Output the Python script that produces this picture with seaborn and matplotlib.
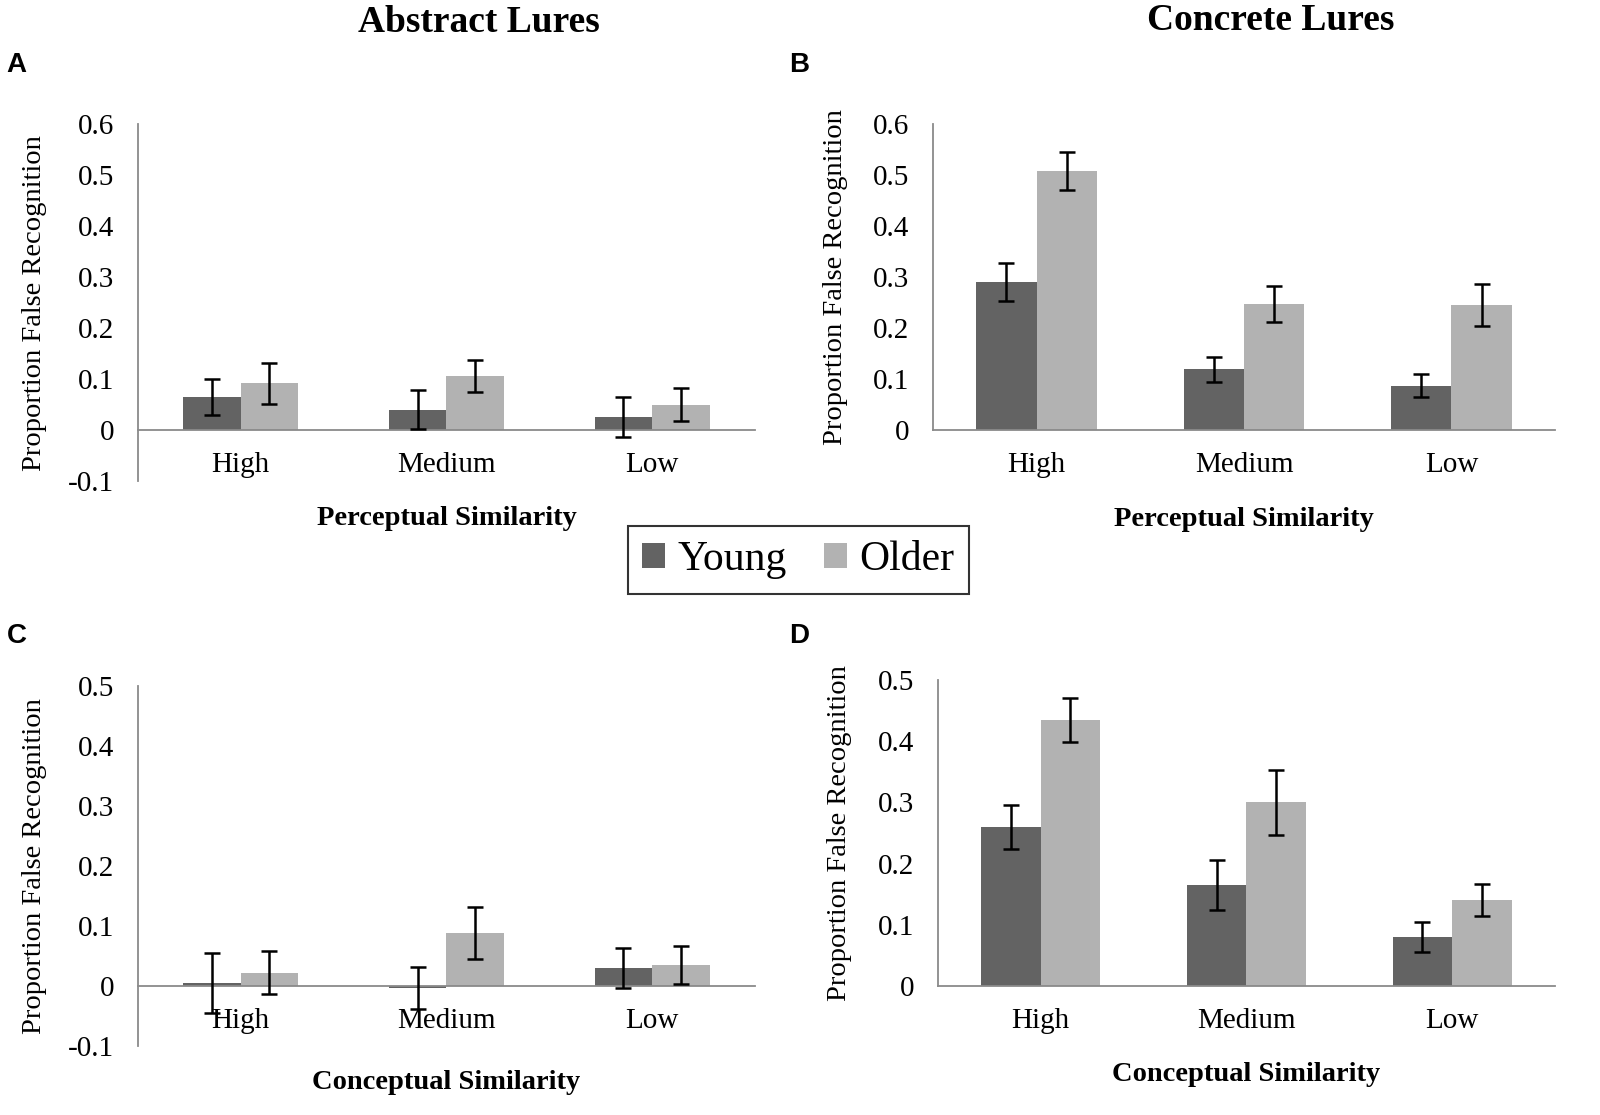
import matplotlib
matplotlib.use("Agg")
import matplotlib.pyplot as plt
import numpy as np
import pandas as pd
import seaborn as sns
from matplotlib.patches import Patch

# Data
levels = ["High", "Medium", "Low"]
groups = ["Young", "Older"]

# A: abstract lures, perceptual similarity
abs_perc_young = [0.065, 0.040, 0.025]
abs_perc_young_err = [0.035, 0.038, 0.039]
abs_perc_older = [0.092, 0.106, 0.050]
abs_perc_older_err = [0.040, 0.032, 0.033]

# B: concrete lures, perceptual similarity
con_perc_young = [0.290, 0.119, 0.087]
con_perc_young_err = [0.037, 0.025, 0.022]
con_perc_older = [0.508, 0.247, 0.246]
con_perc_older_err = [0.037, 0.035, 0.041]

# C: abstract lures, conceptual similarity
abs_conc_young = [0.005, -0.003, 0.030]
abs_conc_young_err = [0.050, 0.035, 0.033]
abs_conc_older = [0.022, 0.088, 0.035]
abs_conc_older_err = [0.036, 0.043, 0.032]

# D: concrete lures, conceptual similarity
con_conc_young = [0.260, 0.165, 0.080]
con_conc_young_err = [0.036, 0.041, 0.025]
con_conc_older = [0.435, 0.300, 0.140]
con_conc_older_err = [0.036, 0.053, 0.026]

ticks_a = [-0.1, 0, 0.1, 0.2, 0.3, 0.4, 0.5, 0.6]
ticks_b = [0, 0.1, 0.2, 0.3, 0.4, 0.5, 0.6]
ticks_c = [-0.1, 0, 0.1, 0.2, 0.3, 0.4, 0.5]
ticks_d = [0, 0.1, 0.2, 0.3, 0.4, 0.5]

colors = ["#636363", "#b2b2b2"]
axis_gray = "#8a8a8a"
serif = ["Liberation Serif", "DejaVu Serif"]

sns.set_style("white")
plt.rcParams["font.family"] = serif
plt.rcParams["text.color"] = "black"
plt.rcParams["xtick.color"] = "black"
plt.rcParams["ytick.color"] = "black"
plt.rcParams["axes.labelcolor"] = "black"


def draw_panel(ax, young, young_err, older, older_err, yticks, xlabel, width, xlab_y, ylab_x):
    df = pd.DataFrame({
        "level": levels * 2,
        "group": [groups[0]] * 3 + [groups[1]] * 3,
        "value": young + older,
    })
    sns.barplot(data=df, x="level", y="value", hue="group", order=levels,
                hue_order=groups, palette=colors, width=width, saturation=1,
                errorbar=None, legend=False, linewidth=0, ax=ax)

    # error bars centred on each bar
    for container, vals, errs in zip(ax.containers, [young, older], [young_err, older_err]):
        for bar, v, e in zip(container, vals, errs):
            xc = bar.get_x() + bar.get_width() / 2
            ax.errorbar(xc, v, yerr=e, color="black", lw=1.8, capsize=5.5,
                        capthick=1.8, zorder=5)

    ax.set_xlim(-0.5, 2.5)
    ax.set_ylim(yticks[0], yticks[-1])
    ax.set_yticks(yticks)
    ax.set_yticklabels([f"{t:g}" for t in yticks])

    for side in ["top", "right"]:
        ax.spines[side].set_visible(False)
    for side in ["left", "bottom"]:
        ax.spines[side].set_color(axis_gray)
        ax.spines[side].set_linewidth(1.3)
    ax.spines["bottom"].set_position(("data", 0))
    ax.spines["bottom"].set_zorder(4)

    ax.tick_params(axis="y", length=0, pad=17, labelsize=21)
    ax.tick_params(axis="x", length=0, pad=16, labelsize=21)

    ax.set_xlabel(xlabel, fontsize=20.5, fontweight="bold")
    ax.xaxis.set_label_coords(0.5, xlab_y)
    ax.set_ylabel("Proportion False Recognition", fontsize=20.5)
    ax.yaxis.set_label_coords(ylab_x, 0.5)


fig = plt.figure(figsize=(16, 11.15), dpi=100)

ax_a = fig.add_axes([0.086, 0.5686, 0.386, 0.320])
ax_b = fig.add_axes([0.583, 0.6143, 0.389, 0.2744])
ax_c = fig.add_axes([0.086, 0.0619, 0.386, 0.323])
ax_d = fig.add_axes([0.586, 0.1157, 0.386, 0.2744])

draw_panel(ax_a, abs_perc_young, abs_perc_young_err, abs_perc_older, abs_perc_older_err,
           ticks_a, "Perceptual Similarity", 0.56, -0.07, -0.147)
draw_panel(ax_b, con_perc_young, con_perc_young_err, con_perc_older, con_perc_older_err,
           ticks_b, "Perceptual Similarity", 0.58, -0.25, -0.137)
draw_panel(ax_c, abs_conc_young, abs_conc_young_err, abs_conc_older, abs_conc_older_err,
           ticks_c, "Conceptual Similarity", 0.56, -0.067, -0.147)
draw_panel(ax_d, con_conc_young, con_conc_young_err, con_conc_older, con_conc_older_err,
           ticks_d, "Conceptual Similarity", 0.58, -0.25, -0.138)

# column titles
fig.text(0.299, 0.980, "Abstract Lures", ha="center", va="center",
         fontsize=27, fontweight="bold")
fig.text(0.794, 0.982, "Concrete Lures", ha="center", va="center",
         fontsize=27, fontweight="bold")

# panel letters
sans = ["Liberation Sans", "DejaVu Sans"]
for label, x, y in [("A", 0.004, 0.942), ("B", 0.493, 0.942),
                    ("C", 0.004, 0.430), ("D", 0.493, 0.430)]:
    fig.text(x, y, label, ha="left", va="center", fontsize=20,
             fontweight="bold", family=sans)

# shared legend
handles = [Patch(facecolor=c, edgecolor="none", label=g) for c, g in zip(colors, groups)]
leg = fig.legend(handles=handles, loc="center", bbox_to_anchor=(0.499, 0.498),
                 ncol=2, fontsize=30, frameon=True, fancybox=False,
                 handlelength=0.55, handleheight=0.55, handletextpad=0.3,
                 columnspacing=0.9, borderpad=0.35, edgecolor="black")
leg.get_frame().set_linewidth(1.5)

fig.savefig("out.png", dpi=100)
